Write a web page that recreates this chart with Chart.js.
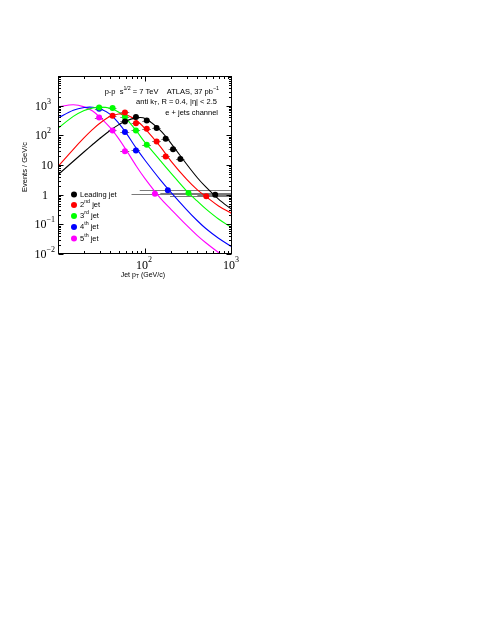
<!DOCTYPE html>
<html><head><meta charset="utf-8">
<script src="https://cdn.jsdelivr.net/npm/chart.js@4.4.0/dist/chart.umd.min.js"></script>
<style>html,body{margin:0;padding:0;background:#fff;}canvas{display:block;}</style>
</head><body>
<canvas id="c" width="491" height="635"></canvas>
<script>
// ---- data ----
const curveX = [10, 15, 20, 25, 30, 40, 50, 60, 80, 100, 150, 200, 300, 400, 500, 700, 1000];
const curveLeading = [4.68, 13.4, 28.0, 49.0, 76.6, 148.6, 229.6, 304.1, 388.1, 371.5, 147.9, 52.5, 10.8, 3.72, 1.82, 0.710, 0.313];
const curve2nd = [8.91, 33.9, 83.2, 158.5, 251.2, 436.5, 524.8, 501.2, 316.2, 169.8, 41.7, 13.2, 3.31, 1.445, 0.871, 0.417, 0.229];
const curve3rd = [173.8, 436.5, 691.8, 831.8, 891.3, 812.8, 602.6, 380.2, 138.0, 57.5, 14.1, 5.25, 1.35, 0.603, 0.331, 0.151, 0.0759];
const curve4th = [380.2, 698.2, 867.0, 887.2, 809.1, 510.5, 251.2, 125.9, 35.5, 14.5, 3.16, 1.175, 0.316, 0.132, 0.0724, 0.0339, 0.0174];
const curve5th = [912.0, 1071.5, 912.0, 660.7, 416.9, 177.8, 75.9, 33.9, 8.91, 3.47, 0.759, 0.316, 0.0933, 0.0417, 0.0240, 0.0112, 0.00525];

const leadX  = [58.8, 78.7, 104.8, 136, 173, 210, 255, 641];
const leadY  = [295, 417, 316, 176, 77, 34, 16, 1.0];
const leadLo = [52, 70, 93, 121, 154, 187, 227, 400];
const leadHi = [66, 88, 117, 152, 193, 234, 285, 1000];

const jet2X  = [42.4, 58.8, 78.7, 104.8, 136, 173, 506];
const jet2Y  = [457, 589, 257, 166, 62, 19.5, 0.88];
const jet2Lo = [38, 52, 70, 93, 121, 154, 194];
const jet2Hi = [47, 66, 88, 117, 152, 193, 1000];

const jet3X  = [29.7, 42.4, 58.8, 78.7, 104.8, 316];
const jet3Y  = [870, 832, 417, 146, 48, 1.14];
const jet3Lo = [26.5, 38, 52, 70, 93, 150];
const jet3Hi = [33, 47, 66, 88, 117, 1000];

const jet4X  = [29.7, 58.8, 78.7, 183];
const jet4Y  = [794, 129, 31, 1.4];
const jet4Lo = [26.5, 52, 70, 87];
const jet4Hi = [33, 66, 88, 1000];

const jet5X  = [29.7, 42.4, 58.8, 130];
const jet5Y  = [398, 146, 29, 1.07];
const jet5Lo = [26.5, 38, 52, 70];
const jet5Hi = [33, 47, 66, 1000];

const seriesNames = ['Leading jet', '2', '3', '4', '5'];
const seriesSup = ['', 'nd', 'rd', 'th', 'th'];
const seriesColors = ['#000000', '#ff0000', '#00ff00', '#0000ff', '#ff00ff'];

const yMajorTicks = [0.01, 0.1, 1, 10, 100, 1000, 10000];
const xMajorTicks = [10, 100, 1000];

// ---- build datasets ----
const curves = [curveLeading, curve2nd, curve3rd, curve4th, curve5th];
const pts = [
  [leadX, leadY, leadLo, leadHi],
  [jet2X, jet2Y, jet2Lo, jet2Hi],
  [jet3X, jet3Y, jet3Lo, jet3Hi],
  [jet4X, jet4Y, jet4Lo, jet4Hi],
  [jet5X, jet5Y, jet5Lo, jet5Hi]
];
const datasets = [];
curves.forEach((c, i) => {
  datasets.push({
    data: curveX.map((x, k) => ({x: x, y: c[k]})),
    borderColor: seriesColors[i], borderWidth: 1.1, pointRadius: 0,
    tension: 0.35, fill: false, order: 10
  });
});
pts.forEach((p, i) => {
  datasets.push({
    data: p[0].map((x, k) => ({x: x, y: p[1][k]})),
    xlo: p[2], xhi: p[3], isPts: true,
    showLine: false, pointRadius: 3, pointHoverRadius: 3,
    pointBackgroundColor: seriesColors[i], pointBorderWidth: 0,
    borderColor: seriesColors[i], order: 1
  });
});

function drawSup(ctx, parts, x, y, align) {
  let w = 0;
  parts.forEach(p => { ctx.font = p[1]; w += ctx.measureText(p[0]).width; });
  let cx = align === 'right' ? x - w : (align === 'center' ? x - w / 2 : x);
  ctx.textAlign = 'left';
  parts.forEach(p => { ctx.font = p[1]; ctx.fillText(p[0], cx, y + (p[2] || 0)); cx += ctx.measureText(p[0]).width; });
}

const rootStyle = {
  id: 'rootStyle',
  beforeDatasetsDraw(chart) {
    const ctx = chart.ctx, xs = chart.scales.x, ys = chart.scales.y;
    ctx.save();
    ctx.strokeStyle = '#7a7a7a'; ctx.lineWidth = 1;
    chart.data.datasets.forEach(ds => {
      if (!ds.isPts) return;
      ds.data.forEach((d, k) => {
        const py = Math.round(ys.getPixelForValue(d.y)) + 0.5;
        const x1 = xs.getPixelForValue(ds.xlo[k]);
        const x2 = Math.min(xs.getPixelForValue(ds.xhi[k]), chart.chartArea.right);
        ctx.beginPath(); ctx.moveTo(x1, py); ctx.lineTo(x2, py); ctx.stroke();
      });
    });
    ctx.restore();
  },
  afterDraw(chart) {
    const ctx = chart.ctx, xs = chart.scales.x, ys = chart.scales.y, a = chart.chartArea;
    ctx.save();
    ctx.strokeStyle = '#000'; ctx.lineWidth = 1;
    const L = Math.round(a.left) + 0.5, R = Math.round(a.right) - 0.5, T = Math.round(a.top) + 0.5, B = Math.round(a.bottom) - 0.5;
    ctx.strokeRect(L, T, R - L, B - T);
    ctx.beginPath();
    for (let e = -2; e < 4; e++) {
      for (let m = 1; m <= 9; m++) {
        const v = m * Math.pow(10, e);
        const py = Math.round(ys.getPixelForValue(v)) + 0.5;
        const len = m === 1 ? 5 : 2.5;
        ctx.moveTo(L, py); ctx.lineTo(L + len, py);
        ctx.moveTo(R, py); ctx.lineTo(R - len, py);
      }
    }
    for (let e = 1; e < 3; e++) {
      for (let m = 1; m <= 9; m++) {
        const v = m * Math.pow(10, e);
        const px = Math.round(xs.getPixelForValue(v)) + 0.5;
        const len = m === 1 ? 5 : 2.5;
        ctx.moveTo(px, B); ctx.lineTo(px, B - len);
        ctx.moveTo(px, T); ctx.lineTo(px, T + len);
      }
    }
    ctx.stroke();

    ctx.fillStyle = '#000';
    ctx.textBaseline = 'middle';
    const big = '12px "Liberation Serif"', small = '8px "Liberation Serif"';
    yMajorTicks.forEach(v => {
      if (v >= 10000) return;
      const py = ys.getPixelForValue(v);
      const e = Math.round(Math.log10(v));
      if (e === 0) { drawSup(ctx, [['1', big, 0]], 48, py + 1, 'right'); }
      else if (e === 1) { drawSup(ctx, [['10', big, 0]], 53, py + 1, 'right'); }
      else { drawSup(ctx, [['10', big, 0], [e < 0 ? '\u2212' + (-e) : String(e), small, -5]], e < 0 ? 55 : 51, py + 1, 'right'); }
    });
    xMajorTicks.forEach(v => {
      if (v === 10) return;
      const px = xs.getPixelForValue(v);
      const e = Math.round(Math.log10(v));
      drawSup(ctx, [['10', big, 0], [String(e), small, -6]], px - 9, 266, 'left');
    });

    const sans = '7px "Liberation Sans"', sansS = '5px "Liberation Sans"';
    drawSup(ctx, [['Jet p', sans, 0], ['T', sansS, 2], [' (GeV/c)', sans, 0]], 165, 275, 'right');
    ctx.save();
    ctx.translate(25, 167); ctx.rotate(-Math.PI / 2);
    ctx.font = '7.5px "Liberation Sans"'; ctx.textAlign = 'center'; ctx.fillText('Events / GeV/c', 0, 0);
    ctx.restore();

    const f8 = '7.5px "Liberation Sans"', f5 = '5.3px "Liberation Sans"';
    drawSup(ctx, [['p-p  s', f8, 0], ['1/2', f5, -3], [' = 7 TeV    ATLAS, 37 pb', f8, 0], ['\u22121', f5, -3]], 219, 92, 'right');
    drawSup(ctx, [['anti k', f8, 0], ['T', f5, 2], [', R = 0.4, |\u03b7| < 2.5', f8, 0]], 217, 102, 'right');
    drawSup(ctx, [['e + jets channel', f8, 0]], 218, 113, 'right');

    const legY = [194.5, 205, 216, 227, 238.5];
    seriesNames.forEach((n, i) => {
      ctx.fillStyle = seriesColors[i];
      ctx.beginPath(); ctx.arc(74, legY[i], 3, 0, Math.PI * 2); ctx.fill();
      ctx.fillStyle = '#000';
      if (i === 0) drawSup(ctx, [[n, f8, 0]], 80, legY[i], 'left');
      else drawSup(ctx, [[n, f8, 0], [seriesSup[i], f5, -3], [' jet', f8, 0]], 80, legY[i], 'left');
    });
    ctx.restore();
  }
};

new Chart(document.getElementById('c'), {
  type: 'line',
  data: { datasets: datasets },
  options: {
    responsive: false, animation: false, devicePixelRatio: 1,
    layout: { padding: { left: 58, right: 259, top: 76, bottom: 381 } },
    scales: {
      x: { type: 'logarithmic', min: 10, max: 1000, display: false },
      y: { type: 'logarithmic', min: 0.01, max: 10000, display: false }
    },
    plugins: { legend: { display: false }, tooltip: { enabled: false } },
    events: []
  },
  plugins: [rootStyle]
});
</script>
</body></html>
